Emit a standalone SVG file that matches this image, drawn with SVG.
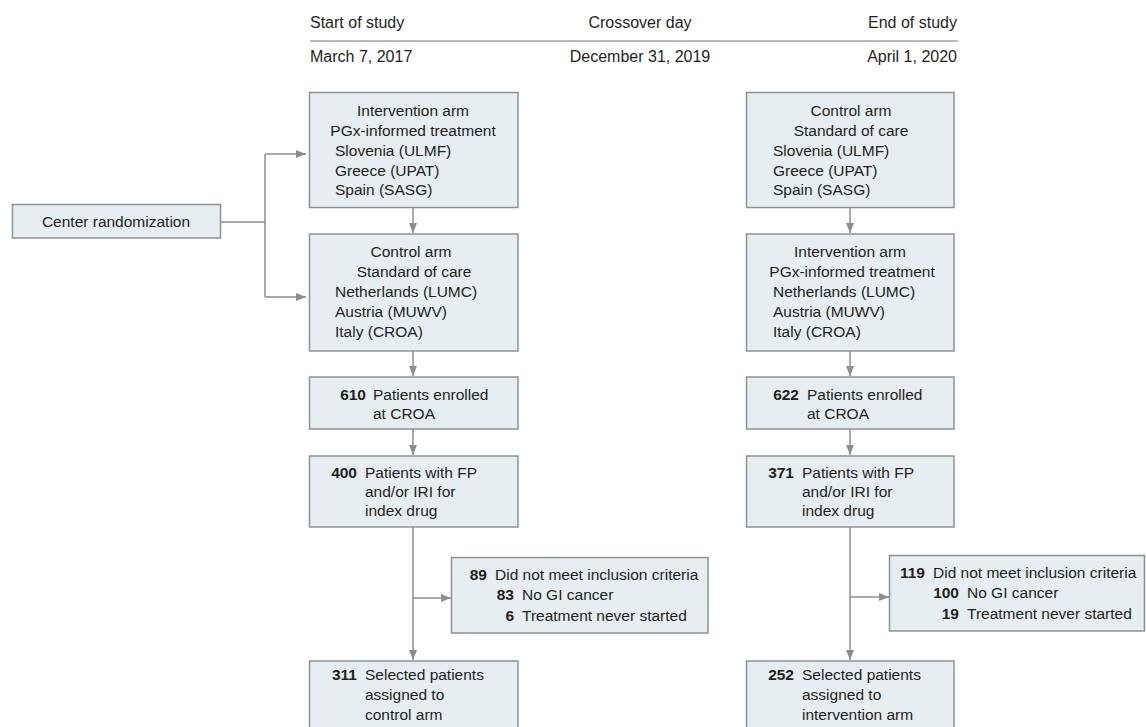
<svg xmlns="http://www.w3.org/2000/svg" width="1146" height="727" viewBox="0 0 1146 727">
<style>
text{font-family:"Liberation Sans",Arial,sans-serif;font-size:15.5px;fill:#231f20}
.h{font-size:16px}
.c{text-anchor:middle}
.e{text-anchor:end}
.b{font-weight:bold}
.box{fill:#e6eef2;stroke:#8f9193;stroke-width:1.5}
.ln{fill:none;stroke:#8c8e90;stroke-width:1.5}
</style>
<defs>
<marker id="ah" markerUnits="userSpaceOnUse" markerWidth="12" markerHeight="10" refX="10" refY="5" orient="auto">
<path d="M0,1 L10,5 L0,9 z" fill="#8c8e90"/>
</marker>
</defs>
<rect width="1146" height="727" fill="#ffffff"/>
<g id="header">
<text class="h" x="310" y="28">Start of study</text>
<text class="h c" x="640" y="28">Crossover day</text>
<text class="h e" x="957" y="28">End of study</text>
<line x1="310" y1="41" x2="958" y2="41" stroke="#b8b9bb" stroke-width="2"/>
<text class="h" x="310" y="62">March 7, 2017</text>
<text class="h c" x="640" y="62">December 31, 2019</text>
<text class="h e" x="957" y="62">April 1, 2020</text>
</g>
<g id="connectors">
<path class="ln" d="M221,222 H265 M265,154 V297"/>
<path class="ln" d="M265,154 H306" marker-end="url(#ah)"/>
<path class="ln" d="M265,297 H306" marker-end="url(#ah)"/>
<path class="ln" d="M413,208 V233" marker-end="url(#ah)"/>
<path class="ln" d="M413,351 V376" marker-end="url(#ah)"/>
<path class="ln" d="M413,429 V455" marker-end="url(#ah)"/>
<path class="ln" d="M413,527 V660" marker-end="url(#ah)"/>
<path class="ln" d="M413,598 H451" marker-end="url(#ah)"/>
<path class="ln" d="M850,208 V233" marker-end="url(#ah)"/>
<path class="ln" d="M850,351 V376" marker-end="url(#ah)"/>
<path class="ln" d="M850,429 V455" marker-end="url(#ah)"/>
<path class="ln" d="M850,527 V660" marker-end="url(#ah)"/>
<path class="ln" d="M850,597 H889" marker-end="url(#ah)"/>
</g>
<g id="randomization">
<rect class="box" x="12.5" y="204.5" width="208" height="33.5"/>
<text class="c" x="116" y="227">Center randomization</text>
</g>
<g id="left-intervention">
<rect class="box" x="309.5" y="92.5" width="208.5" height="115"/>
<text class="c" x="413" y="116">Intervention arm</text>
<text class="c" x="413" y="136">PGx-informed treatment</text>
<text x="335" y="155.5">Slovenia (ULMF)</text>
<text x="335" y="175.5">Greece (UPAT)</text>
<text x="335" y="195">Spain (SASG)</text>
</g>
<g id="left-control">
<rect class="box" x="309.5" y="234" width="208.5" height="117"/>
<text class="c" x="411" y="257">Control arm</text>
<text class="c" x="414" y="277">Standard of care</text>
<text x="335" y="297">Netherlands (LUMC)</text>
<text x="335" y="317">Austria (MUWV)</text>
<text x="335" y="337">Italy (CROA)</text>
</g>
<g id="left-enrolled">
<rect class="box" x="309.5" y="377" width="208.5" height="52"/>
<text class="e b" x="366" y="400">610</text>
<text x="373" y="400">Patients enrolled</text>
<text x="373" y="419">at CROA</text>
</g>
<g id="left-fp">
<rect class="box" x="309.5" y="456" width="208.5" height="71"/>
<text class="e b" x="357" y="478">400</text>
<text x="365" y="478">Patients with FP</text>
<text x="365" y="497">and/or IRI for</text>
<text x="365" y="516">index drug</text>
</g>
<g id="left-excluded">
<rect class="box" x="451.5" y="557.5" width="256.5" height="75.5"/>
<text class="e b" x="487" y="580">89</text>
<text x="495" y="580">Did not meet inclusion criteria</text>
<text class="e b" x="514" y="600">83</text>
<text x="522" y="600">No GI cancer</text>
<text class="e b" x="514" y="621">6</text>
<text x="522" y="621">Treatment never started</text>
</g>
<g id="left-selected">
<rect class="box" x="309.5" y="661" width="208.5" height="80"/>
<text class="e b" x="357" y="680">311</text>
<text x="365" y="680">Selected patients</text>
<text x="365" y="700">assigned to</text>
<text x="365" y="720">control arm</text>
</g>
<g id="right-control">
<rect class="box" x="746.5" y="92.5" width="207.5" height="115"/>
<text class="c" x="851" y="116">Control arm</text>
<text class="c" x="851" y="136">Standard of care</text>
<text x="773" y="155.5">Slovenia (ULMF)</text>
<text x="773" y="175.5">Greece (UPAT)</text>
<text x="773" y="195">Spain (SASG)</text>
</g>
<g id="right-intervention">
<rect class="box" x="746.5" y="234" width="207.5" height="117"/>
<text class="c" x="850" y="257">Intervention arm</text>
<text class="c" x="852" y="277">PGx-informed treatment</text>
<text x="773" y="297">Netherlands (LUMC)</text>
<text x="773" y="317">Austria (MUWV)</text>
<text x="773" y="337">Italy (CROA)</text>
</g>
<g id="right-enrolled">
<rect class="box" x="746.5" y="377" width="207.5" height="52"/>
<text class="e b" x="799" y="400">622</text>
<text x="807" y="400">Patients enrolled</text>
<text x="807" y="419">at CROA</text>
</g>
<g id="right-fp">
<rect class="box" x="746.5" y="456" width="207.5" height="71"/>
<text class="e b" x="794" y="478">371</text>
<text x="802" y="478">Patients with FP</text>
<text x="802" y="497">and/or IRI for</text>
<text x="802" y="516">index drug</text>
</g>
<g id="right-excluded">
<rect class="box" x="889.5" y="555.5" width="255" height="75.5"/>
<text class="e b" x="925" y="577.5">119</text>
<text x="933" y="577.5">Did not meet inclusion criteria</text>
<text class="e b" x="959" y="598">100</text>
<text x="967" y="598">No GI cancer</text>
<text class="e b" x="959" y="619">19</text>
<text x="967" y="619">Treatment never started</text>
</g>
<g id="right-selected">
<rect class="box" x="746.5" y="661" width="207.5" height="80"/>
<text class="e b" x="794" y="680">252</text>
<text x="802" y="680">Selected patients</text>
<text x="802" y="700">assigned to</text>
<text x="802" y="720">intervention arm</text>
</g>
</svg>
